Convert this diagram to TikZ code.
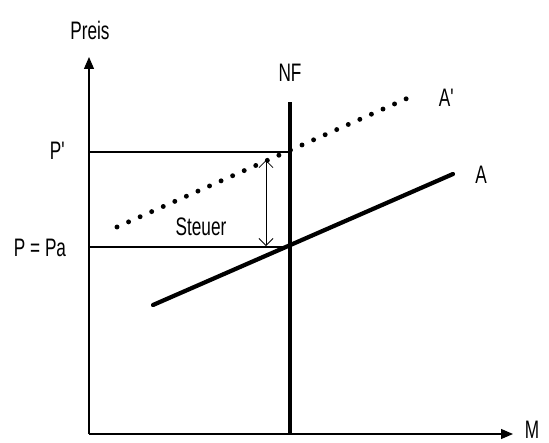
\documentclass[tikz,border=0pt]{standalone}
\usepackage{fontspec}
\setmainfont{Liberation Sans}[FakeStretch=0.68]
\usetikzlibrary{arrows.meta}

\begin{document}
\begin{tikzpicture}[
  x=0.02cm, y=-0.02cm,
  lbl/.style={font=\Large, inner sep=1pt},
  axis/.style={line width=0.7pt, -{Triangle[length=2.4mm, width=2mm]}},
  guide/.style={line width=0.6pt},
  supply/.style={line width=2.4pt, line cap=round},
  dots/.style={line width=2.8pt, line cap=round, dash pattern=on 0pt off 7.2pt},
  tax/.style={line width=0.5pt, {Straight Barb[length=1.4mm]}-{Straight Barb[length=1.4mm]}}
]
\useasboundingbox (0,0) rectangle (549,443);
% axes
\coordinate (O)    at (89,434);
\coordinate (ytop) at (89,57);
\coordinate (xend) at (513,434);
\node[lbl] (preis) at (90,30) {Preis};
\node[lbl] (M)     at (532,430) {M};
\draw[axis] (O) -- (ytop);
\draw[axis] (O) -- (xend);

% nachfrage (vertical)
\coordinate (nftop) at (290,102);
\coordinate (nfbot) at (290,434);
\node[lbl] (NF) at (290,73) {NF};
\draw[line width=1.8pt] (nftop) -- (nfbot);

% prices
\coordinate (pstrich) at (89,152);
\coordinate (pa)      at (89,247);
\coordinate (e1)      at (290,152);
\coordinate (e0)      at (290,247);
\node[lbl] (lpstrich) at (58,151) {P\textquotesingle};
\node[lbl] (lpa)      at (40,248) {P = Pa};
\draw[guide] (pstrich) -- (e1);
\draw[guide] (pa) -- (e0);

% angebot A and A'
\coordinate (a0) at (153,305);
\coordinate (a1) at (453,174);
\node[lbl] (A) at (481,175) {A};
\draw[supply] (a0) -- (a1);
\coordinate (b0) at (117,227);
\coordinate (b1) at (417,94);
\node[lbl] (Astrich) at (447,98) {A\textquotesingle};
\draw[dots] (b0) -- (b1);

% steuer
\coordinate (t1) at (266,160);
\coordinate (t0) at (266,246);
\draw[tax] (t1) -- (t0);
\node[lbl] (steuer) at (201,227) {Steuer};
\end{tikzpicture}
\end{document}
